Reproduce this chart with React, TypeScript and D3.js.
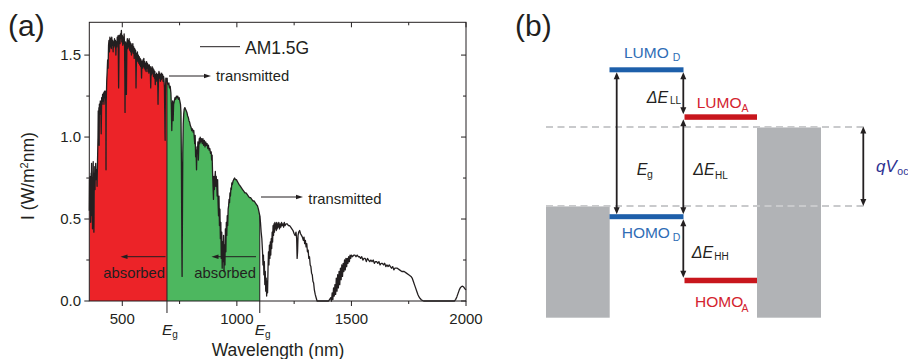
import React from "react";
import * as d3 from "d3";

// ---------- Panel (a) data: AM1.5G spectral irradiance ----------
const am15g: [number, number][] = [
  [356,0.55],[357,0.74],[358,0.66],[359,0.76],[360,0.58],[361,0.70],[362,0.48],[363,0.62],[364,0.78],[365,0.72],
  [366,0.84],[367,0.60],[368,0.52],[369,0.66],[370,0.44],[371,0.58],[372,0.74],[373,0.85],[374,0.70],[375,0.62],
  [376,0.42],[377,0.56],[378,0.78],[379,0.72],[380,0.82],[381,0.68],[382,0.76],[384,0.84],[386,0.74],[388,0.80],
  [390,0.70],[392,0.86],[394,1.00],[395,1.16],[396,1.08],[398,1.18],[399,0.95],[400,1.20],[402,1.14],[404,1.22],
  [406,1.18],[408,1.02],[410,1.24],[412,1.20],[414,1.26],[416,1.22],[418,1.27],[420,1.20],[422,1.28],[424,1.24],
  [426,1.28],[428,1.20],[429,0.80],[430,1.22],[432,1.34],[434,1.40],[436,1.47],[438,1.42],[440,1.56],[442,1.59],
  [444,1.52],[446,1.61],[448,1.55],[450,1.60],[452,1.54],[454,1.61],[456,1.56],[458,1.59],[460,1.52],[462,1.58],
  [464,1.55],[466,1.60],[468,1.56],[470,1.59],[472,1.50],[474,1.58],[476,1.55],[478,1.61],[480,1.57],[482,1.62],
  [484,1.30],[486,1.58],[488,1.62],[490,1.57],[492,1.63],[494,1.60],[496,1.65],[498,1.58],[500,1.62],[502,1.56],
  [504,1.61],[506,1.57],[508,1.63],[510,1.55],[512,1.15],[514,1.58],[516,1.54],[518,1.26],[520,1.57],[522,1.60],
  [524,1.54],[526,1.59],[528,1.55],[530,1.60],[532,1.53],[534,1.58],[536,1.52],[538,1.57],[540,1.50],[542,1.56],
  [544,1.52],[546,1.57],[548,1.51],[550,1.55],[552,1.48],[554,1.54],[556,1.50],[558,1.53],[560,1.30],[562,1.51],
  [564,1.47],[566,1.52],[568,1.46],[570,1.50],[572,1.45],[574,1.49],[576,1.44],[578,1.48],[580,1.43],[582,1.47],
  [584,1.36],[586,1.46],[588,1.42],[590,1.47],[592,1.43],[594,1.48],[596,1.42],[598,1.46],[600,1.41],[602,1.45],
  [604,1.40],[606,1.46],[608,1.42],[610,1.45],[612,1.40],[614,1.44],[616,1.39],[618,1.44],[620,1.40],[622,1.43],
  [624,1.30],[626,1.42],[628,1.38],[630,1.43],[632,1.39],[634,1.42],[636,1.37],[638,1.41],[640,1.36],[642,1.40],
  [644,1.32],[646,1.38],[648,1.34],[650,1.39],[652,1.35],[654,1.38],[656,1.20],[658,1.37],[660,1.40],[662,1.36],
  [664,1.39],[666,1.34],[668,1.38],[670,1.35],[672,1.39],[674,1.36],[676,1.38],[678,1.34],[680,1.37],[682,1.35],
  [684,1.30],[686,1.05],[687,0.98],[688,1.25],[690,1.36],[692,1.34],[695,1.36],[697,1.33],[700,1.32],[703,1.33],
  [706,1.30],[709,1.31],[712,1.27],[714,1.20],[716,1.04],[718,1.18],[720,1.22],[722,1.10],[724,1.20],[727,1.22],
  [730,1.24],[733,1.23],[736,1.25],[739,1.24],[742,1.25],[745,1.23],[748,1.24],[751,1.22],[754,1.20],[756,1.15],
  [758,0.85],[760,0.30],[761,0.15],[762,0.40],[764,0.90],[766,1.08],[768,1.14],[770,1.17],[773,1.18],[776,1.17],
  [779,1.16],[782,1.15],[785,1.13],[788,1.12],[791,1.10],[794,1.09],[797,1.07],[800,1.06],[803,1.04],[806,1.05],
  [809,1.03],[812,1.04],[814,1.00],[816,0.96],[818,1.01],[820,0.88],[822,0.92],[824,0.80],[826,0.94],[828,0.90],
  [830,0.97],[832,0.86],[834,0.95],[836,0.99],[838,0.96],[840,1.00],[843,0.97],[846,0.99],[849,0.96],[852,0.99],
  [855,0.95],[858,0.98],[861,0.94],[864,0.97],[867,0.95],[870,0.96],[873,0.93],[876,0.95],[879,0.92],[882,0.93],
  [885,0.90],[888,0.91],[890,0.86],[892,0.89],[894,0.78],[896,0.70],[898,0.62],[900,0.76],[902,0.68],[904,0.74],
  [906,0.79],[908,0.70],[910,0.76],[912,0.72],[914,0.64],[916,0.74],[918,0.60],[920,0.52],[922,0.64],[924,0.46],
  [926,0.56],[928,0.38],[930,0.48],[932,0.26],[934,0.42],[936,0.20],[938,0.36],[940,0.24],[942,0.40],[944,0.18],
  [946,0.34],[948,0.22],[950,0.44],[952,0.30],[954,0.48],[956,0.40],[958,0.52],[960,0.46],[962,0.56],[964,0.58],
  [966,0.62],[968,0.60],[970,0.66],[972,0.64],[974,0.69],[976,0.68],[978,0.72],[980,0.71],[983,0.73],[986,0.74],
  [990,0.75],[994,0.74],[998,0.74],[1002,0.73],[1006,0.72],[1010,0.71],[1015,0.70],[1020,0.69],[1025,0.68],[1030,0.67],
  [1035,0.66],[1040,0.66],[1045,0.65],[1050,0.64],[1055,0.63],[1060,0.63],[1065,0.62],[1070,0.61],[1075,0.61],[1080,0.60],
  [1085,0.59],[1090,0.58],[1094,0.56],[1097,0.54],[1100,0.52],[1103,0.48],[1106,0.42],[1109,0.38],[1112,0.30],[1114,0.22],
  [1116,0.28],[1118,0.16],[1120,0.24],[1122,0.10],[1124,0.18],[1126,0.06],[1128,0.14],[1130,0.03],[1132,0.12],[1134,0.05],
  [1136,0.20],[1138,0.30],[1140,0.22],[1142,0.34],[1144,0.26],[1146,0.36],[1148,0.28],[1150,0.38],[1152,0.32],[1154,0.42],
  [1156,0.36],[1158,0.46],[1160,0.40],[1162,0.47],[1164,0.42],[1166,0.48],[1168,0.44],[1170,0.47],[1172,0.43],[1174,0.48],
  [1176,0.44],[1178,0.47],[1180,0.45],[1183,0.48],[1186,0.44],[1189,0.47],[1192,0.45],[1195,0.48],[1198,0.46],[1201,0.47],
  [1204,0.45],[1207,0.48],[1210,0.46],[1215,0.47],[1220,0.47],[1225,0.46],[1230,0.46],[1235,0.45],[1240,0.44],[1245,0.43],
  [1250,0.41],[1254,0.40],[1258,0.42],[1261,0.38],[1263,0.26],[1265,0.30],[1267,0.40],[1270,0.42],[1274,0.43],[1278,0.41],
  [1282,0.40],[1286,0.39],[1290,0.37],[1293,0.39],[1296,0.35],[1299,0.37],[1302,0.33],[1305,0.35],[1308,0.30],[1311,0.31],
  [1314,0.26],[1317,0.27],[1320,0.22],[1323,0.21],[1326,0.17],[1329,0.16],[1332,0.12],[1335,0.11],[1338,0.07],[1342,0.04],
  [1346,0.02],[1350,0],[1400,0],[1405,0.01],[1410,0.02],[1413,0.00],[1416,0.05],[1419,0.01],[1422,0.08],[1425,0.03],
  [1428,0.10],[1431,0.04],[1434,0.14],[1437,0.06],[1440,0.16],[1443,0.08],[1446,0.18],[1449,0.10],[1452,0.20],[1455,0.13],
  [1458,0.22],[1461,0.15],[1464,0.23],[1467,0.18],[1470,0.25],[1473,0.19],[1476,0.26],[1479,0.21],[1482,0.26],[1485,0.23],
  [1488,0.27],[1491,0.24],[1494,0.28],[1497,0.26],[1500,0.28],[1505,0.27],[1510,0.28],[1515,0.28],[1520,0.27],[1525,0.28],
  [1530,0.27],[1535,0.27],[1540,0.26],[1545,0.27],[1550,0.25],[1555,0.26],[1560,0.26],[1565,0.24],[1570,0.26],[1575,0.25],
  [1580,0.24],[1585,0.25],[1590,0.24],[1595,0.25],[1600,0.23],[1605,0.24],[1610,0.24],[1615,0.23],[1620,0.24],[1625,0.22],
  [1630,0.23],[1635,0.23],[1640,0.22],[1645,0.23],[1650,0.21],[1655,0.22],[1660,0.21],[1665,0.22],[1670,0.21],[1675,0.20],
  [1680,0.21],[1685,0.19],[1690,0.20],[1700,0.20],[1710,0.19],[1720,0.18],[1730,0.18],[1740,0.17],[1750,0.16],[1760,0.15],
  [1765,0.14],[1770,0.12],[1775,0.10],[1780,0.08],[1785,0.06],[1790,0.04],[1795,0.025],[1800,0.015],[1805,0.008],[1810,0.003],
  [1815,0],[1950,0],[1955,0.01],[1960,0.025],[1965,0.045],[1970,0.065],[1975,0.08],[1980,0.088],[1985,0.09],[1990,0.085],
  [1995,0.075],[2000,0.068],
];

const xDomain = [356, 2000];
const yDomain = [0, 1.7];
const xTicksMajor = [500, 1000, 1500, 2000];
const xTicksMinor = [750, 1250, 1750];
const yTicksMajor = [0, 0.5, 1.0, 1.5];
const yTicksMinor = [0.25, 0.75, 1.25];
const bandEdges = [356, 695, 1100]; // red absorbed band, green absorbed band
const bandColors = ["#EC2328", "#4DB75F"];
const gapEdges = [695, 1100]; // E_g positions

// ---------- Panel (b) data: energy levels (eV) ----------
const donorLevels = [-3.0, -5.0]; // LUMO_D, HOMO_D
const acceptorLevels = [-3.64, -5.865]; // LUMO_A, HOMO_A
const electrodeLevels = [-4.86, -3.785]; // left (anode) top, right (cathode) top
const levelBottom = -6.375;

const INK = "#231f20";
const FONT = "'Liberation Sans', Arial, Helvetica, sans-serif";

function Arrow({ x1, y1, x2, y2, start = false, end = true, w = 1, hl = 7, hw = 4.5, color = INK }: any) {
  const dx = x2 - x1, dy = y2 - y1;
  const L = Math.hypot(dx, dy);
  const ux = dx / L, uy = dy / L;
  const px = -uy, py = ux;
  const sx = start ? x1 + ux * hl * 0.8 : x1;
  const sy = start ? y1 + uy * hl * 0.8 : y1;
  const ex = end ? x2 - ux * hl * 0.8 : x2;
  const ey = end ? y2 - uy * hl * 0.8 : y2;
  const head = (tx: number, ty: number, dirx: number, diry: number) => {
    const bx = tx - dirx * hl, by = ty - diry * hl;
    return `M${tx},${ty}L${bx + px * hw / 2},${by + py * hw / 2}L${bx - px * hw / 2},${by - py * hw / 2}Z`;
  };
  return (
    <g>
      <line x1={sx} y1={sy} x2={ex} y2={ey} stroke={color} strokeWidth={w} />
      {end && <path d={head(x2, y2, ux, uy)} fill={color} />}
      {start && <path d={head(x1, y1, -ux, -uy)} fill={color} />}
    </g>
  );
}

function PanelA() {
  const x = d3.scaleLinear().domain(xDomain).range([89.3, 466]);
  const y = d3.scaleLinear().domain(yDomain).range([301, 22.3]);
  const [x0, x1] = x.range();
  const y0 = y(0), yTop = y(1.7);
  const area = d3.area<[number, number]>().x(d => x(d[0])).y0(y(0)).y1(d => y(d[1]));
  const line = d3.line<[number, number]>().x(d => x(d[0])).y(d => y(d[1]));
  const valueAt = (w: number) => (am15g.find(d => d[0] === w) || [w, 0])[1];

  return (
    <g fontFamily={FONT} fill={INK}>
      <defs>
        {bandColors.map((c, i) => (
          <clipPath id={`band${i}`} key={i}>
            <rect x={x(bandEdges[i])} y={0} width={x(bandEdges[i + 1]) - x(bandEdges[i])} height={y0} />
          </clipPath>
        ))}
      </defs>
      {bandColors.map((c, i) => (
        <path key={i} d={area(am15g) || ""} fill={c} clipPath={`url(#band${i})`} />
      ))}
      {gapEdges.map((g, i) => (
        <line key={i} x1={x(g)} x2={x(g)} y1={y(valueAt(g))} y2={313} stroke={INK} strokeWidth={1} />
      ))}
      <path d={line(am15g) || ""} fill="none" stroke={INK} strokeWidth={1.3} strokeLinejoin="round" />

      {/* frame */}
      <rect x={x0} y={yTop} width={x1 - x0} height={y0 - yTop} fill="none" stroke={INK} strokeWidth={1} />
      {xTicksMajor.map(t => (
        <g key={t}>
          <line x1={x(t)} x2={x(t)} y1={y0} y2={y0 + 5} stroke={INK} />
          <line x1={x(t)} x2={x(t)} y1={yTop} y2={yTop + 5} stroke={INK} />
          <text x={x(t)} y={323.5} textAnchor="middle" fontSize={15}>{t}</text>
        </g>
      ))}
      {xTicksMinor.map(t => (
        <g key={t}>
          <line x1={x(t)} x2={x(t)} y1={y0} y2={y0 + 3} stroke={INK} />
          <line x1={x(t)} x2={x(t)} y1={yTop} y2={yTop + 3} stroke={INK} />
        </g>
      ))}
      {yTicksMajor.map(t => (
        <g key={t}>
          <line x1={x0 - 5} x2={x0} y1={y(t)} y2={y(t)} stroke={INK} />
          <line x1={x1 - 5} x2={x1} y1={y(t)} y2={y(t)} stroke={INK} />
          <text x={81} y={y(t) + 5.3} textAnchor="end" fontSize={15}>{t.toFixed(1)}</text>
        </g>
      ))}
      {yTicksMinor.map(t => (
        <g key={t}>
          <line x1={x0 - 3} x2={x0} y1={y(t)} y2={y(t)} stroke={INK} />
          <line x1={x1 - 3} x2={x1} y1={y(t)} y2={y(t)} stroke={INK} />
        </g>
      ))}

      {/* axis titles */}
      <text x={278} y={355.5} textAnchor="middle" fontSize={17.5}>Wavelength (nm)</text>
      <text transform="translate(34,176) rotate(-90)" textAnchor="middle" fontSize={17.5}>
        I (W/m<tspan fontSize={11} dy={-6}>2</tspan><tspan dy={6}>nm)</tspan>
      </text>

      {/* E_g labels */}
      {gapEdges.map((g, i) => (
        <text key={i} x={x(g) - 5} y={335} fontSize={15.5}>
          <tspan fontStyle="italic">E</tspan><tspan fontSize={10} dy={3}>g</tspan>
        </text>
      ))}

      {/* legend */}
      <line x1={200} x2={240} y1={46.7} y2={46.7} stroke={INK} strokeWidth={1} />
      <text x={245} y={53.5} fontSize={17.5}>AM1.5G</text>

      {/* annotations */}
      <Arrow x1={169} y1={76} x2={211} y2={76} />
      <text x={216} y={80.7} fontSize={14.8}>transmitted</text>
      <Arrow x1={261} y1={197} x2={303} y2={197} />
      <text x={308.3} y={203.5} fontSize={14.8}>transmitted</text>
      <Arrow x1={165.5} y1={256.7} x2={120.5} y2={256.7} />
      <text x={103.3} y={278.3} fontSize={14.8}>absorbed</text>
      <Arrow x1={256} y1={256.7} x2={211.5} y2={256.7} />
      <text x={194.3} y={278.3} fontSize={14.8}>absorbed</text>

      <text x={8} y={35.5} fontSize={30}>(a)</text>
    </g>
  );
}

function PanelB() {
  const e = d3.scaleLinear().domain([donorLevels[0], donorLevels[1]]).range([69.8, 216.7]);
  const blue = "#1D5FAA", blueText = "#2F6DB5";
  const red = "#C8161D", redText = "#D3232F";
  const gray = "#B1B3B6", dash = "#C9CACC";
  const navy = "#2E3192";
  const dL = [609.5, 683.5]; // donor bar extent
  const aL = [684.5, 757]; // acceptor bar extent
  const leftBlock = [546, 609.7];
  const rightBlock = [757, 821];
  const barW = 5;
  const aw = 1.8, hl = 7, hw = 6;
  const xa = 683.3, xe = 616.7, xq = 863.3;
  return (
    <g fontFamily={FONT}>
      {/* electrodes */}
      <rect x={leftBlock[0]} y={e(electrodeLevels[0])} width={leftBlock[1] - leftBlock[0]}
        height={e(levelBottom) - e(electrodeLevels[0])} fill={gray} />
      <rect x={rightBlock[0]} y={e(electrodeLevels[1])} width={rightBlock[1] - rightBlock[0]}
        height={e(levelBottom) - e(electrodeLevels[1])} fill={gray} />
      {/* dashed Fermi levels */}
      {electrodeLevels.map((lv, i) => (
        <line key={i} x1={546} x2={865} y1={e(lv) - 0.5} y2={e(lv) - 0.5} stroke={dash} strokeWidth={2}
          strokeDasharray="7 4.5" />
      ))}
      {/* levels */}
      {donorLevels.map((lv, i) => (
        <rect key={i} x={dL[0]} y={e(lv) - barW / 2} width={dL[1] - dL[0]} height={barW} fill={blue} />
      ))}
      {acceptorLevels.map((lv, i) => (
        <rect key={i} x={aL[0]} y={e(lv) - barW / 2} width={aL[1] - aL[0]} height={barW + 0.5} fill={red} />
      ))}
      {/* arrows */}
      <Arrow x1={xe} y1={e(donorLevels[0]) + barW / 2} x2={xe} y2={e(donorLevels[1]) - barW / 2}
        start end w={aw} hl={hl} hw={hw} />
      <Arrow x1={xa} y1={e(donorLevels[0]) + barW / 2} x2={xa} y2={e(acceptorLevels[0]) - barW / 2}
        start end w={aw} hl={hl} hw={hw} />
      <Arrow x1={xa} y1={e(acceptorLevels[0]) + barW / 2} x2={xa} y2={e(donorLevels[1]) - barW / 2}
        start end w={aw} hl={hl} hw={hw} />
      <Arrow x1={xa} y1={e(donorLevels[1]) + barW / 2} x2={xa} y2={e(acceptorLevels[1]) - barW / 2}
        start end w={aw} hl={hl} hw={hw} />
      <Arrow x1={xq} y1={e(electrodeLevels[1]) - 1} x2={xq} y2={e(electrodeLevels[0]) - 0.5}
        start end w={aw} hl={hl} hw={hw} />

      {/* labels */}
      <text x={624} y={58.3} fontSize={15.5} fill={blueText}>LUMO</text>
      <text x={672.7} y={60.8} fontSize={10.5} fill={blueText}>D</text>
      <text x={621.7} y={238.3} fontSize={15.5} fill={blueText}>HOMO</text>
      <text x={672.7} y={240.8} fontSize={10.5} fill={blueText}>D</text>
      <text x={696.7} y={108.3} fontSize={15.5} fill={redText}>LUMO</text>
      <text x={741.5} y={111.8} fontSize={10.5} fill={redText}>A</text>
      <text x={695} y={306.7} fontSize={15.5} fill={redText}>HOMO</text>
      <text x={741.5} y={311.8} fontSize={10.5} fill={redText}>A</text>

      <text x={646.7} y={103.3} fontSize={16} fill={INK} fontStyle="italic">ΔE</text>
      <text x={670} y={103.8} fontSize={10} fill={INK}>LL</text>
      <text x={636.7} y={175} fontSize={16} fill={INK} fontStyle="italic">E</text>
      <text x={647} y={178.3} fontSize={10.5} fill={INK}>g</text>
      <text x={693.3} y={175} fontSize={16} fill={INK} fontStyle="italic">ΔE</text>
      <text x={715} y={178.5} fontSize={10} fill={INK}>HL</text>
      <text x={691.7} y={258.3} fontSize={16} fill={INK} fontStyle="italic">ΔE</text>
      <text x={714.3} y={259.5} fontSize={10} fill={INK}>HH</text>

      <text x={876} y={171.5} fontSize={17} fill={navy} fontStyle="italic">qV</text>
      <text x={897.3} y={175} fontSize={10.5} fill={navy}>oc</text>

      <text x={515} y={35.5} fontSize={30} fill={INK}>(b)</text>
    </g>
  );
}

export default function App() {
  return (
    <svg width={908} height={359} viewBox="0 0 908 359"
      style={{ position: "absolute", left: 0, top: 0, background: "#fff" }}>
      <rect width={908} height={359} fill="#fff" />
      <PanelA />
      <PanelB />
    </svg>
  );
}
